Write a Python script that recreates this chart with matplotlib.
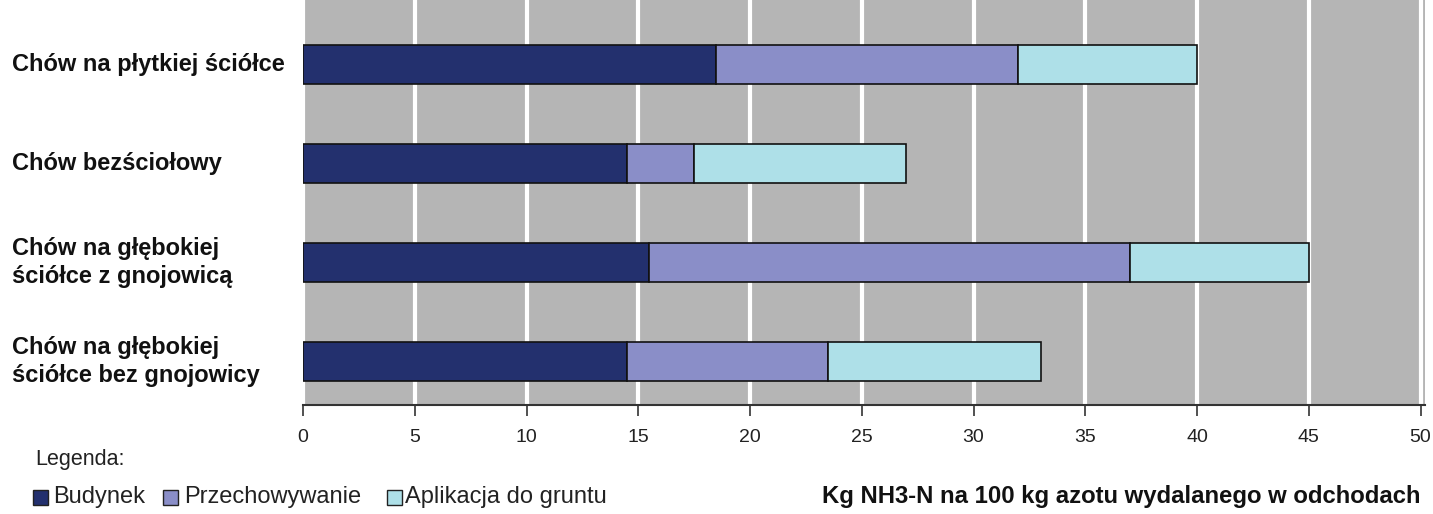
import matplotlib
matplotlib.use("Agg")
import matplotlib.pyplot as plt
import matplotlib.transforms as mtransforms
from matplotlib.patches import Rectangle

categories = ["Chów na płytkiej ściółce", "Chów bezściołowy",
              "Chów na głębokiej\nściółce z gnojowicą",
              "Chów na głębokiej\nściółce bez gnojowicy"]
budynek = [18.5, 14.5, 15.5, 14.5]
przechowywanie = [13.5, 3.0, 21.5, 9.0]
aplikacja = [8.0, 9.5, 8.0, 9.5]
series_names = ["Budynek", "Przechowywanie", "Aplikacja do gruntu"]
colors = ["#23306e", "#8a8ec8", "#aee0e8"]
xticks = [0, 5, 10, 15, 20, 25, 30, 35, 40, 45, 50]
xlabel = "Kg NH3-N na 100 kg azotu wydalanego w odchodach"

plt.rcParams['font.family'] = ['Liberation Sans', 'DejaVu Sans']

W, H = 1433, 514
fig = plt.figure(figsize=(W/100, H/100), dpi=100)
ax = fig.add_axes([303/W, 1 - 405/H, (1425-303)/W, 405/H])
ax.set_facecolor("#b5b5b5")

y = list(range(len(categories)))
left = [0]*len(categories)
for vals, c, name in zip([budynek, przechowywanie, aplikacja], colors, series_names):
    ax.barh(y, vals, left=left, height=0.4, color=c, edgecolor="#111111",
            linewidth=1.2, label=name, zorder=3)
    left = [l + v for l, v in zip(left, vals)]

ax.set_xlim(0, 50.2)
ax.set_ylim(3.44, -0.65)
ax.set_xticks(xticks)
ax.set_xticklabels([str(t) for t in xticks], fontsize=14, color="#222222")
ax.tick_params(axis='x', length=8, width=1.2, color="#333333", pad=9)
ax.set_yticks([])
ax.grid(axis='x', color="white", linewidth=3, zorder=1)
ax.set_axisbelow(True)
for s in ["top", "right", "left"]:
    ax.spines[s].set_visible(False)
ax.spines["bottom"].set_color("#333333")
ax.spines["bottom"].set_linewidth(1.5)

trans = mtransforms.blended_transform_factory(fig.transFigure, ax.transData)
for yi, cat in zip(y, categories):
    ax.text(12/W, yi, cat, transform=trans, ha="left", va="center",
            fontsize=17, fontweight="bold", linespacing=1.25, color="#111111")

fig.text(35/W, 1 - 460/H, "Legenda:", fontsize=15.5,
         ha="left", va="center", color="#222222")

sq_x = [33, 163, 387]
tx_x = [53, 184, 405]
for c, n, sx, tx in zip(colors, series_names, sq_x, tx_x):
    fig.patches.append(Rectangle((sx/W, 1 - 505/H), 15/W, 15/H, transform=fig.transFigure,
                                 facecolor=c, edgecolor="#222222", linewidth=1))
    fig.text(tx/W, 1 - 497/H, n, fontsize=17, ha="left", va="center", color="#222222")

fig.text(1421/W, 1 - 497/H, xlabel, fontsize=17.2, fontweight="bold",
         ha="right", va="center", color="#111111")

fig.savefig("out.png", dpi=100, facecolor="white")
